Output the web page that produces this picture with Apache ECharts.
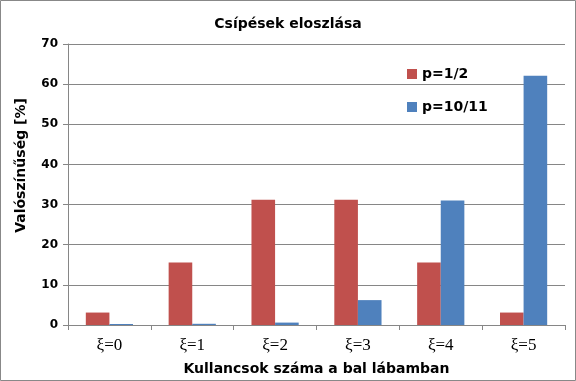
<!DOCTYPE html>
<html><head><meta charset="utf-8">
<script src="https://cdn.jsdelivr.net/npm/echarts@6/dist/echarts.min.js"></script>
<style>html,body{margin:0;padding:0;background:#fff}#c{width:576px;height:381px}</style>
</head><body><div id="c"></div>
<script>
const categories = ['ξ=0','ξ=1','ξ=2','ξ=3','ξ=4','ξ=5'];
const seriesHalf = [3.1, 15.6, 31.2, 31.2, 15.6, 3.1];
const seriesTenEleventh = [0.25, 0.3, 0.6, 6.2, 31.0, 62.1];
const yTicks = {min: 0, max: 70, interval: 10};

const chart = echarts.init(document.getElementById('c'), null, {renderer: 'canvas'});
const sans = 'DejaVu Sans';
chart.setOption({
  animation: false,
  title: {text: 'Csípések eloszlása', left: 'center', top: 12,
    textStyle: {fontFamily: sans, fontWeight: 'bold', fontSize: 14, color: '#000'}},
  graphic: [{type: 'rect', shape: {x: 0.5, y: 0.5, width: 575, height: 380},
    style: {fill: 'none', stroke: '#888', lineWidth: 1}}],
  grid: {left: 68, right: 11, top: 44, bottom: 53},
  legend: {orient: 'vertical', left: 402, top: 60, itemWidth: 10, itemHeight: 10, itemGap: 15,
    icon: 'rect',
    textStyle: {fontFamily: sans, fontWeight: 'bold', fontSize: 14, color: '#000', lineHeight: 18}},
  xAxis: {type: 'category', data: categories,
    name: 'Kullancsok száma a bal lábamban', nameLocation: 'middle', nameGap: 37,
    nameTextStyle: {fontFamily: sans, fontWeight: 'bold', fontSize: 14, color: '#000'},
    axisLine: {lineStyle: {color: '#868686'}},
    axisTick: {show: true, length: 5, lineStyle: {color: '#868686'}},
    axisLabel: {fontFamily: 'Liberation Serif', fontSize: 17, color: '#000', margin: 12}},
  yAxis: {type: 'value', min: yTicks.min, max: yTicks.max, interval: yTicks.interval,
    name: 'Valószínűség [%]', nameLocation: 'middle', nameGap: 40,
    nameTextStyle: {fontFamily: sans, fontWeight: 'bold', fontSize: 14, color: '#000',
      padding: [0, 0, 0, 38]},
    axisLine: {show: true, lineStyle: {color: '#868686'}},
    axisTick: {show: true, length: 5, lineStyle: {color: '#868686'}},
    splitLine: {lineStyle: {color: '#868686'}},
    axisLabel: {fontFamily: sans, fontWeight: 'bold', fontSize: 12, color: '#000', margin: 10}},
  series: [
    {name: 'p=1/2', type: 'bar', data: seriesHalf, itemStyle: {color: '#C0504D'},
      barGap: '0%', barCategoryGap: '43%'},
    {name: 'p=10/11', type: 'bar', data: seriesTenEleventh, itemStyle: {color: '#4F81BD'},
      barGap: '0%', barCategoryGap: '43%'}
  ]
});
</script></body></html>
